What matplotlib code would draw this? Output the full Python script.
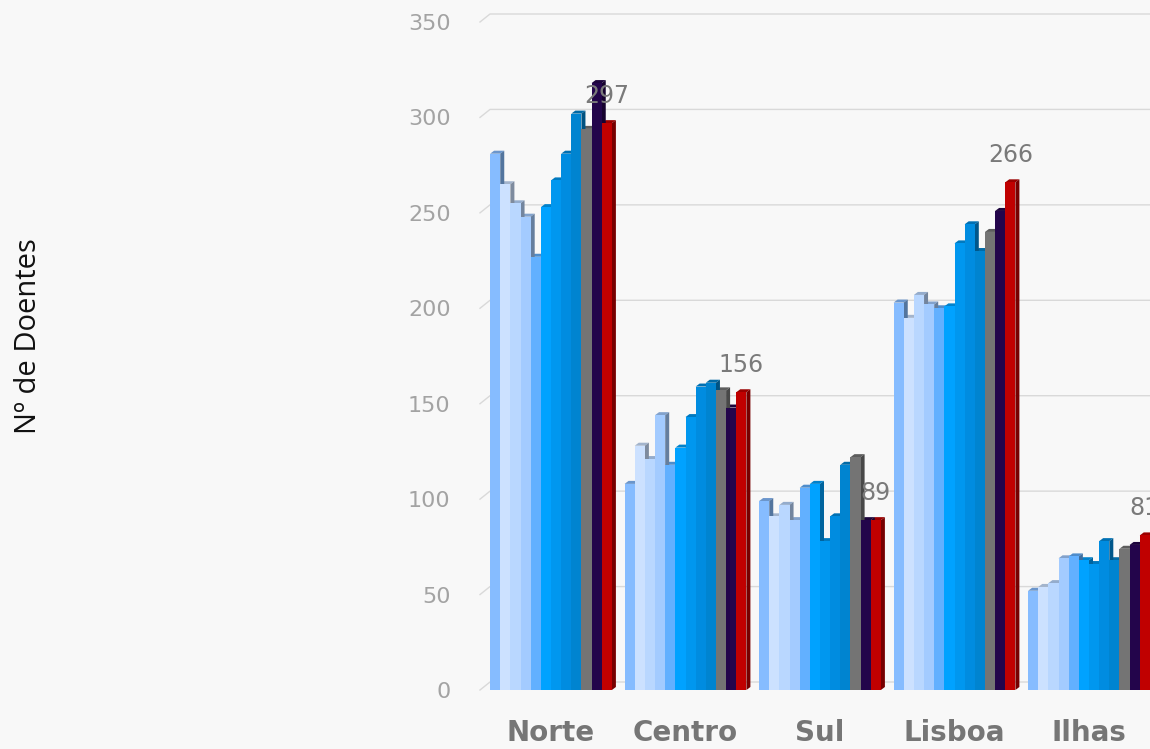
import numpy as np
import matplotlib.pyplot as plt
from matplotlib.patches import Polygon
from matplotlib.colors import to_rgb

# data
regions = ["Norte", "Centro", "Sul", "Lisboa", "Ilhas"]
norte = [281, 265, 255, 248, 227, 253, 267, 281, 302, 294, 318, 297]
centro = [108, 128, 121, 144, 118, 127, 143, 159, 161, 157, 148, 156]
sul = [99, 91, 97, 89, 106, 108, 78, 91, 118, 122, 89, 89]
lisboa = [203, 195, 207, 202, 200, 201, 234, 244, 230, 240, 251, 266]
ilhas = [52, 54, 56, 69, 70, 68, 66, 78, 68, 74, 76, 81]
yticks = [0, 50, 100, 150, 200, 250, 300, 350]

series_colors = [
    "#86BCFF", "#CCE1FF", "#B9D7FF", "#A3CBFF", "#62B0FF", "#00A2FF",
    "#0097EF", "#008CE0", "#0084D0", "#747474", "#23054B", "#C00000",
]

values = np.array([norte, centro, sul, lisboa, ilhas])
n_groups, n_series = values.shape

W, H = 1150, 749
fig = plt.figure(figsize=(W / 100, H / 100), dpi=100)
fig.patch.set_facecolor("#F8F8F8")

# pixel layout: group centres 551 + 134.5*i, value 0 at y=690, 350 at y=22
px_unit = 134.5
ax_left_px, ax_right_px = 470, 1150
ax = fig.add_axes([ax_left_px / W, (H - 690) / H, (ax_right_px - ax_left_px) / W, (690 - 22) / H])
ax.set_facecolor("none")
ax.set_xlim((ax_left_px - 551) / px_unit, (ax_right_px - 551) / px_unit)
ax.set_ylim(0, 350)
y_unit = (690 - 22) / 350

bw = 10.15 / px_unit
dx, dy = 4 / px_unit, 3 / y_unit          # bar depth
gdx, gdy = 10 / px_unit, 8 / y_unit       # back-wall depth

# back-wall gridlines with a short floor diagonal
x_wall = (490 - 551) / px_unit
x_end = ax.get_xlim()[1]
for v in yticks:
    ax.plot([x_wall - gdx, x_wall, x_end], [v, v + gdy, v + gdy],
            color="#D9D9D9", lw=1, zorder=1, clip_on=False)


def shade(c, f=0.72):
    return tuple(np.array(to_rgb(c)) * f)


tops, sides = [], []
for g in range(n_groups):
    for j in range(n_series):
        v = values[g, j]
        x0 = g + (j - n_series / 2) * bw
        x1 = x0 + bw
        col = series_colors[j]
        ax.bar(x0, v, width=bw, align="edge", color=col, lw=0, zorder=3)
        tops.append(Polygon([(x0, v), (x0 + dx, v + dy), (x1 + dx, v + dy), (x1, v)],
                            closed=True, fc=shade(col, 0.8), lw=0, zorder=2))
        sides.append(Polygon([(x1, 0), (x1 + dx, dy), (x1 + dx, v + dy), (x1, v)],
                             closed=True, fc=shade(col, 0.62), lw=0, zorder=2.5))
for p in tops + sides:
    ax.add_patch(p)

# labels on the last series
for g in range(n_groups):
    v = values[g, -1]
    xc = g + (n_series / 2 - 0.5) * bw
    ax.annotate(f"{v}", (xc, v), xytext=(0, 11), textcoords="offset points",
                ha="center", va="bottom", fontsize=17, color="#7A7A7A",
                zorder=5, annotation_clip=False)

for s in ax.spines.values():
    s.set_visible(False)
ax.set_yticks(yticks)
ax.set_yticklabels([str(t) for t in yticks], fontsize=16, color="#A3A3A3")
ax.tick_params(axis="y", length=0, pad=14)
ax.set_xticks(np.arange(n_groups))
ax.set_xticklabels(regions, fontsize=20, fontweight="bold", color="#767676")
ax.tick_params(axis="x", length=0, pad=21)

fig.text(29 / W, 1 - 336 / H, "Nº de Doentes", rotation=90, ha="center", va="center",
         fontsize=21, family="Open Sans", color="#111111")

fig.savefig("out.png", dpi=100, facecolor=fig.get_facecolor())
